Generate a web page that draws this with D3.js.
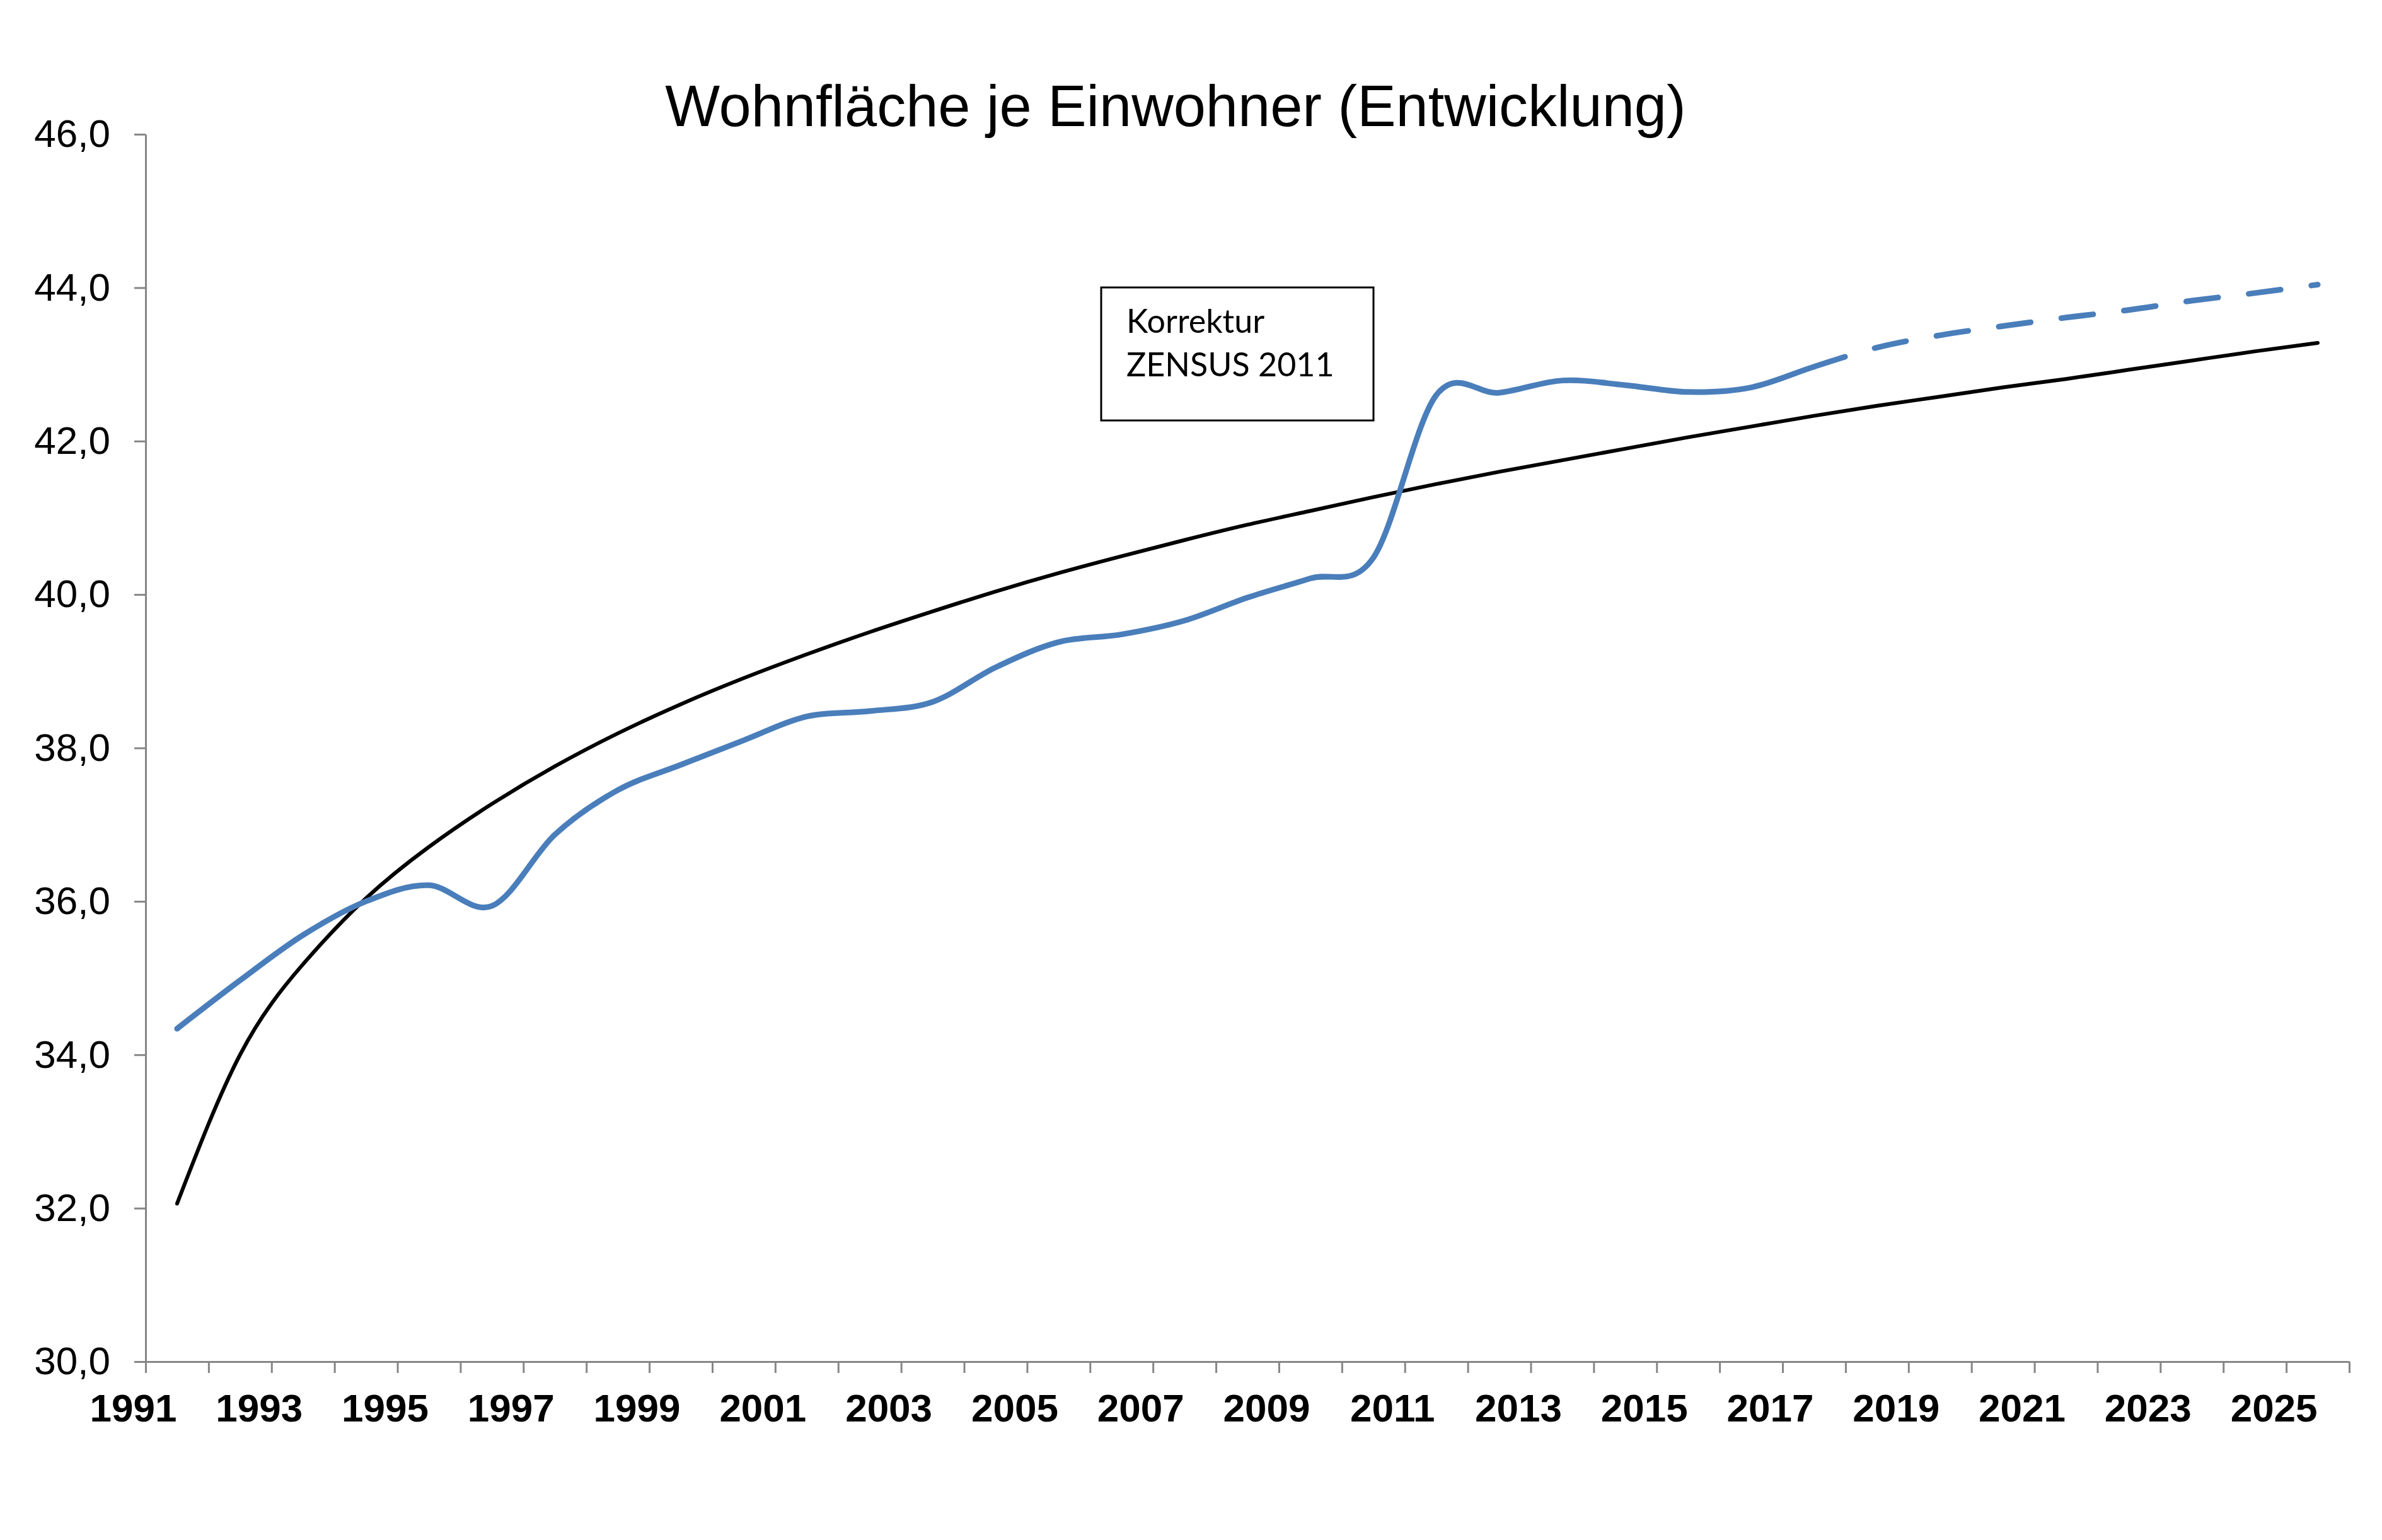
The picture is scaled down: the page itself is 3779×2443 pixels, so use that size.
<!DOCTYPE html>
<html>
<head>
<meta charset="utf-8">
<script src="https://cdn.jsdelivr.net/npm/d3@7"></script>
<style>
  body { margin: 0; background: #fff; }
</style>
</head>
<body>
<svg id="chart" width="3779" height="2443"></svg>
<script>
const years = [1991, 1992, 1993, 1994, 1995, 1996, 1997, 1998, 1999, 2000,
               2001, 2002, 2003, 2004, 2005, 2006, 2007, 2008, 2009, 2010,
               2011, 2012, 2013, 2014, 2015, 2016, 2017, 2018, 2019, 2020,
               2021, 2022, 2023, 2024, 2025];

// Wohnfläche je Einwohner (m²), ab 2018 Prognose
const wohnflaeche = [34.34, 34.97, 35.56, 36.00, 36.21, 35.94, 36.87, 37.45, 37.78, 38.10,
                     38.41, 38.48, 38.60, 39.05, 39.38, 39.48, 39.66, 39.96, 40.21, 40.48,
                     42.60, 42.63, 42.79, 42.73, 42.64, 42.70, 42.97, 43.22, 43.38, 43.50,
                     43.61, 43.71, 43.83, 43.93, 44.04];

// Trendlinie
const trend = [32.06, 34.00, 35.18, 36.04, 36.71, 37.27, 37.76, 38.19, 38.57, 38.91,
               39.22, 39.51, 39.78, 40.04, 40.28, 40.50, 40.71, 40.91, 41.09, 41.27,
               41.44, 41.60, 41.75, 41.90, 42.05, 42.19, 42.33, 42.46, 42.58, 42.70,
               42.81, 42.93, 43.05, 43.17, 43.28];

const lastActualYear = 2017;
const yTicks = [30, 32, 34, 36, 38, 40, 42, 44, 46];
const xLabelYears = [1991, 1993, 1995, 1997, 1999, 2001, 2003, 2005, 2007, 2009,
                     2011, 2013, 2015, 2017, 2019, 2021, 2023, 2025];
const noteLines = ["Korrektur", "ZENSUS 2011"];
const title = "Wohnfläche je Einwohner (Entwicklung)";

const svg = d3.select("#chart");
svg.append("rect").attr("width", 3779).attr("height", 2443).attr("fill", "#fff");

const x = d3.scaleLinear().domain([1991, 2026]).range([231, 3727]);
const y = d3.scaleLinear().domain([30, 46]).range([2160, 213]);

const axisColor = "#868686";

// Titel
svg.append("text")
  .attr("x", 1865)
  .attr("y", 200)
  .attr("text-anchor", "middle")
  .style("font-family", "'Liberation Sans', Arial, sans-serif")
  .style("font-size", "92px")
  .attr("fill", "#000")
  .text(title);

// Y-Achse
const yAxis = d3.axisLeft(y)
  .tickValues(yTicks)
  .tickSize(18)
  .tickSizeOuter(0)
  .tickPadding(38)
  .tickFormat(d => d3.format(".1f")(d).replace(".", ","));

const gy = svg.append("g")
  .attr("transform", `translate(${x(1991)},0)`)
  .call(yAxis);
gy.select(".domain").attr("stroke", axisColor).attr("stroke-width", 3);
gy.selectAll(".tick line").attr("stroke", axisColor).attr("stroke-width", 3);
gy.selectAll(".tick text")
  .style("font-family", "'Liberation Sans', Arial, sans-serif")
  .style("font-size", "62px")
  .attr("fill", "#000");

// X-Achse
const xAxis = d3.axisBottom(x)
  .tickValues(d3.range(1991, 2027))
  .tickSize(18)
  .tickSizeOuter(0)
  .tickPadding(33)
  .tickFormat(d => xLabelYears.includes(d) ? String(d) : "");

const gx = svg.append("g")
  .attr("transform", `translate(0,${y(30)})`)
  .call(xAxis);
gx.select(".domain").attr("stroke", axisColor).attr("stroke-width", 3);
gx.selectAll(".tick line").attr("stroke", axisColor).attr("stroke-width", 3);
gx.selectAll(".tick text")
  .attr("dx", -20)
  .style("font-family", "'Liberation Sans', Arial, sans-serif")
  .style("font-size", "62px")
  .style("font-weight", "bold")
  .attr("fill", "#000");

// Linien
const seriesData = years.map((yr, i) => ({ year: yr, value: wohnflaeche[i] }));
const trendData = years.map((yr, i) => ({ year: yr, value: trend[i] }));

const line = d3.line()
  .x(d => x(d.year + 0.5))
  .y(d => y(d.value))
  .curve(d3.curveCardinal.tension(0));

const trendLine = d3.line()
  .x(d => x(d.year + 0.5))
  .y(d => y(d.value))
  .curve(d3.curveNatural);

svg.append("path")
  .datum(trendData)
  .attr("d", trendLine)
  .attr("fill", "none")
  .attr("stroke", "#000")
  .attr("stroke-width", 6)
  .attr("stroke-linecap", "round");

// Ist-Werte durchgezogen, Prognose gestrichelt
const splitX = x(lastActualYear + 0.5);

const solid = svg.append("path")
  .datum(seriesData)
  .attr("d", line)
  .attr("fill", "none")
  .attr("stroke", "#4a7ebb")
  .attr("stroke-width", 9)
  .attr("stroke-linecap", "round");

const node = solid.node();
const total = node.getTotalLength();
let lo = 0, hi = total;
for (let k = 0; k < 40; k++) {
  const mid = (lo + hi) / 2;
  if (node.getPointAtLength(mid).x < splitX) lo = mid; else hi = mid;
}
const splitLen = lo;
solid.attr("stroke-dasharray", `${splitLen} ${total}`);

svg.append("clipPath").attr("id", "forecast-clip")
  .append("rect")
  .attr("x", splitX).attr("y", 0)
  .attr("width", 3779 - splitX).attr("height", 2443);

svg.append("path")
  .datum(seriesData)
  .attr("d", line)
  .attr("clip-path", "url(#forecast-clip)")
  .attr("fill", "none")
  .attr("stroke", "#4a7ebb")
  .attr("stroke-width", 9)
  .attr("stroke-linecap", "round")
  .attr("stroke-dasharray", "51 49")
  .attr("stroke-dashoffset", -splitLen);

// Hinweisbox
const note = svg.append("g");
note.append("rect")
  .attr("x", 1747).attr("y", 456)
  .attr("width", 432).attr("height", 211)
  .attr("fill", "#fff")
  .attr("stroke", "#000")
  .attr("stroke-width", 3);
note.selectAll("text")
  .data(noteLines)
  .join("text")
  .attr("x", 1787)
  .attr("y", (d, i) => 528 + i * 69)
  .style("font-family", "Lato, 'Open Sans', sans-serif")
  .style("font-size", "52px")
  .attr("fill", "#000")
  .text(d => d);
</script>
</body>
</html>
